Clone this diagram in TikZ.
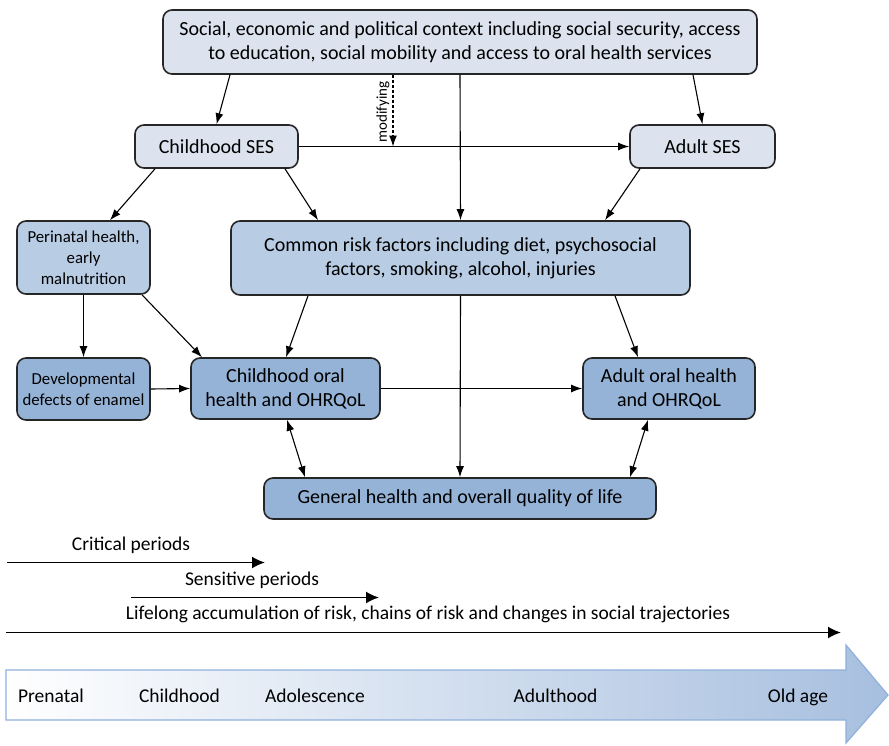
\documentclass[tikz,border=0pt]{standalone}
\usepackage{fontspec}
\setmainfont{Carlito}
\usetikzlibrary{arrows.meta,calc}
\definecolor{lightfill}{HTML}{DCE3EE}
\definecolor{midfill}{HTML}{B8CCE4}
\definecolor{darkfill}{HTML}{95B3D7}
\definecolor{bigborder}{HTML}{8FB0DC}
\definecolor{bigmid}{HTML}{D3DEEC}
\definecolor{bigright}{HTML}{A7BFDF}
\begin{document}
\begin{tikzpicture}[x=1pt,y=-1pt,
  box/.style={draw=black!85, line width=1.6pt, rounded corners=9pt, align=center, inner sep=0pt, font=\fontsize{20}{24}\selectfont},
  lbox/.style={box, fill=lightfill},
  mbox/.style={box, fill=midfill},
  dbox/.style={box, fill=darkfill},
  smalltext/.style={font=\fontsize{16.8}{21}\selectfont},
  arr/.style={-{Latex[length=11pt,width=8pt]}, line width=1.1pt},
  darr/.style={{Latex[length=11pt,width=8pt]}-{Latex[length=11pt,width=8pt]}, line width=1.1pt},
  tarr/.style={-{Latex[length=13pt,width=12pt]}, line width=1.8pt},
  lbl/.style={font=\fontsize{19.5}{22}\selectfont, inner sep=0pt, text height=13.5pt, text depth=4.5pt}
]
\useasboundingbox (0,0) rectangle (889,745);

\node[lbox, minimum width=594pt, minimum height=64pt] (top) at (460,42)
  {Social, economic and political context including social security, access\\to education, social mobility and access to oral health services};
\node[lbox, minimum width=163pt, minimum height=43pt] (cses) at (216.5,146.5) {Childhood SES};
\node[lbox, minimum width=145pt, minimum height=43pt] (ases) at (702.5,146.5) {Adult SES};
\node[mbox, smalltext, minimum width=133pt, minimum height=73pt] (peri) at (83.5,257.5) {Perinatal health,\\early\\malnutrition};
\node[mbox, minimum width=459pt, minimum height=74pt] (crf) at (460.5,258) {Common risk factors including diet, psychosocial\\factors, smoking, alcohol, injuries};
\node[dbox, smalltext, minimum width=133pt, minimum height=62pt] (dev) at (83.5,389) {Developmental\\defects of enamel};
\node[dbox, minimum width=189pt, minimum height=61pt] (coh) at (285.5,388.5) {Childhood oral\\health and OHRQoL};
\node[dbox, minimum width=172pt, minimum height=61pt] (aoh) at (669,388.5) {Adult oral health\\and OHRQoL};
\node[dbox, minimum width=392pt, minimum height=41pt] (gh) at (460,498.5) {General health and overall quality of life};

\coordinate (mod) at ([xshift=-67pt]top.south |- cses.east);
\draw[arr] ([xshift=-230pt]top.south) -- (cses.north);
\draw[arr] ([xshift=233pt]top.south) -- (ases.north);
\draw[arr] (top.south) -- (crf.north);
\draw[arr, dash pattern=on 3pt off 2pt] ([xshift=-67pt]top.south) -- node[pos=0.52, rotate=90, anchor=south, font=\fontsize{15}{17}\selectfont, inner sep=3pt] {modifying} (mod);
\draw[arr] (cses.east) -- (ases.west);
\draw[arr] ([xshift=-61.5pt]cses.south) -- ([xshift=26.5pt]peri.north);
\draw[arr] ([xshift=68.5pt]cses.south) -- ([xshift=-142.5pt]crf.north);
\draw[arr] ([xshift=-62.5pt]ases.south) -- ([xshift=144.5pt]crf.north);
\draw[arr] (peri.south) -- (dev.north);
\draw[arr] ([xshift=58.5pt]peri.south) -- ([xshift=-83.5pt]coh.north);
\draw[arr] ([xshift=-152.5pt]crf.south) -- ([xshift=0.5pt]coh.north);
\draw[arr] ([xshift=154.5pt]crf.south) -- ([xshift=-31pt]aoh.north);
\draw[arr] (crf.south) -- (gh.north);
\draw[arr] (dev.east) -- (coh.west);
\draw[arr] (coh.east) -- (aoh.west);
\draw[darr] ([xshift=1.5pt]coh.south) -- ([xshift=-155pt]gh.north);
\draw[darr] ([xshift=-21pt]aoh.south) -- ([xshift=170pt]gh.north);

% period arrows
\coordinate (c1) at (7,562.5); \coordinate (c2) at (265,562.5);
\coordinate (s1) at (131,597.5); \coordinate (s2) at (379,597.5);
\coordinate (l1) at (6,632.5); \coordinate (l2) at (841,632.5);
\draw[tarr] (c1) -- (c2);
\draw[tarr] (s1) -- (s2);
\draw[tarr] (l1) -- (l2);
\node[lbl] (tc) at (131,546) {Critical periods};
\node[lbl] (ts) at (252,581) {Sensitive periods};
\node[lbl] (tl) at (428,615) {Lifelong accumulation of risk, chains of risk and changes in social trajectories};

% big time arrow
\shadedraw[draw=bigborder, line width=1.2pt, left color=white, middle color=bigmid, right color=bigright]
  (6,670) -- (846,670) -- (846,645) -- (888,695) -- (846,743) -- (846,720) -- (6,720) -- cycle;
\node[lbl] (p1) at (51,698) {Prenatal};
\node[lbl] (p2) at (179.5,698) {Childhood};
\node[lbl] (p3) at (315,698) {Adolescence};
\node[lbl] (p4) at (555.5,698) {Adulthood};
\node[lbl] (p5) at (798,698) {Old age};
\end{tikzpicture}
\end{document}
